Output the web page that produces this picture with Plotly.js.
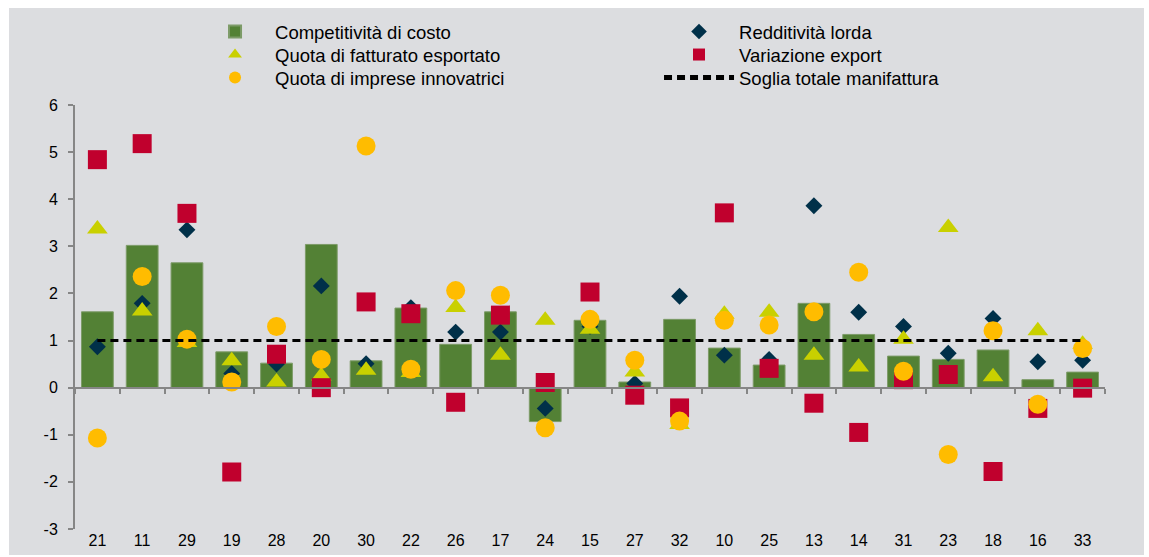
<!DOCTYPE html>
<html>
<head>
<meta charset="utf-8">
<script src="https://cdn.plot.ly/plotly-3.0.1.min.js"></script>
<style>
  html, body { margin: 0; padding: 0; background: #ffffff; }
  #chart { position: absolute; left: 9px; top: 8px; width: 1135px; height: 547px; }
</style>
</head>
<body>
<div id="chart"></div>
<script>
// Settori (codici Ateco)
const categories = ['21','11','29','19','28','20','30','22','26','17','24','15','27','32','10','25','13','14','31','23','18','16','33'];
const competitivitaCosto = [1.61,3.02,2.65,0.76,0.52,3.04,0.57,1.69,0.92,1.61,-0.72,1.43,0.12,1.45,0.84,0.48,1.79,1.13,0.67,0.60,0.80,0.17,0.33];
const redditivitaLorda   = [0.87,1.79,3.35,0.30,0.50,2.16,0.51,1.70,1.18,1.18,-0.44,1.30,0.09,1.94,0.69,0.60,3.86,1.60,1.30,0.73,1.47,0.55,0.58];
const quotaFatturatoEsp  = [3.37,1.63,0.96,0.57,0.12,0.25,0.37,0.32,1.70,0.69,1.43,1.24,0.33,-0.78,1.56,1.60,0.69,0.44,1.03,3.40,0.23,1.21,0.92];
const variazioneExport   = [4.84,5.18,3.70,-1.79,0.71,0.00,1.82,1.57,-0.31,1.54,0.11,2.03,-0.16,-0.43,3.71,0.41,-0.33,-0.95,0.17,0.28,-1.78,-0.44,-0.01];
const quotaImpreseInnov  = [-1.07,2.36,1.03,0.12,1.30,0.60,5.13,0.39,2.06,1.96,-0.85,1.45,0.58,-0.71,1.43,1.33,1.61,2.45,0.35,-1.42,1.21,-0.35,0.83];
const sogliaManifattura  = [1,1,1,1,1,1,1,1,1,1,1,1,1,1,1,1,1,1,1,1,1,1,1];
const yTickValues = [-3,-2,-1,0,1,2,3,4,5,6];
const yTickLabels = ['-3','-2','-1','0','1','2','3','4','5','6'];

const FONT = 'Liberation Sans, Arial, sans-serif';

const traces = [
  {
    type: 'bar', name: 'Competitività di costo', x: categories, y: competitivitaCosto,
    marker: { color: '#538135', line: { color: '#7d9b68', width: 1 } },
    legend: 'legend', legendrank: 1
  },
  {
    type: 'scatter', mode: 'markers', name: 'Redditività lorda', x: categories, y: redditivitaLorda,
    marker: { symbol: 'diamond', size: 13, color: '#003049' }, legend: 'legend', legendrank: 2
  },
  {
    type: 'scatter', mode: 'markers', name: 'Quota di fatturato esportato', x: categories, y: quotaFatturatoEsp,
    marker: { symbol: 'triangle-up', size: 18, color: '#c9d000' }, legend: 'legend2', legendrank: 3
  },
  {
    type: 'scatter', mode: 'markers', name: 'Variazione export', x: categories, y: variazioneExport,
    marker: { symbol: 'square', size: 19, color: '#c0002d' }, legend: 'legend2', legendrank: 4
  },
  {
    type: 'scatter', mode: 'markers', name: 'Quota di imprese innovatrici', x: categories, y: quotaImpreseInnov,
    marker: { symbol: 'circle', size: 19, color: '#ffbc00' }, legend: 'legend3', legendrank: 5
  },
  {
    type: 'scatter', mode: 'lines', name: 'Soglia totale manifattura', x: categories, y: sogliaManifattura,
    line: { color: '#000000', width: 3, dash: '8px,5px' }, legend: 'legend3', legendrank: 6,
    xaxis: 'x2', yaxis: 'y'
  }
];

function legendRow(yPos) {
  return {
    orientation: 'h', xref: 'container', yref: 'container',
    x: 0.1639, y: yPos, xanchor: 'left', yanchor: 'middle',
    bgcolor: 'rgba(0,0,0,0)', borderwidth: 0,
    itemwidth: 70, entrywidth: 379, entrywidthmode: 'pixels',
    itemsizing: 'constant', traceorder: 'normal',
    font: { family: FONT, size: 18.5, color: '#000000' }
  };
}

const layout = {
  width: 1135, height: 547,
  paper_bgcolor: '#dcdde0', plot_bgcolor: 'rgba(0,0,0,0)',
  margin: { l: 66, r: 39, t: 97, b: 26 },
  font: { family: FONT, size: 16, color: '#000000' },
  bargap: 0.29,
  showlegend: true,
  legend: legendRow(1 - 24 / 547),
  legend2: legendRow(1 - 47 / 547),
  legend3: legendRow(1 - 70 / 547),
  xaxis: {
    type: 'category', range: [-0.5, 22.5], anchor: 'free', position: 1/3,
    showline: true, linecolor: '#868686', linewidth: 2,
    ticks: 'outside', tickson: 'boundaries', ticklen: 5, tickwidth: 2, tickcolor: '#868686',
    showticklabels: false, showgrid: false, zeroline: false, fixedrange: true, automargin: false
  },
  xaxis2: {
    type: 'category', range: [-0.5, 22.5], overlaying: 'x', anchor: 'y', side: 'bottom',
    showline: false, ticks: '', showticklabels: true, showgrid: false, zeroline: false,
    tickfont: { family: FONT, size: 16, color: '#000000' }, fixedrange: true, automargin: false
  },
  yaxis: {
    range: [-3, 6], tickmode: 'array', tickvals: yTickValues, ticktext: yTickLabels,
    showline: true, linecolor: '#868686', linewidth: 2,
    ticks: 'outside', ticklen: 5, tickwidth: 2, tickcolor: '#868686',
    showgrid: false, zeroline: false, ticklabelstandoff: 7,
    tickfont: { family: FONT, size: 16, color: '#000000' }, fixedrange: true, automargin: false
  }
};

Plotly.newPlot('chart', traces, layout, { displayModeBar: false, staticPlot: true });
</script>
</body>
</html>
